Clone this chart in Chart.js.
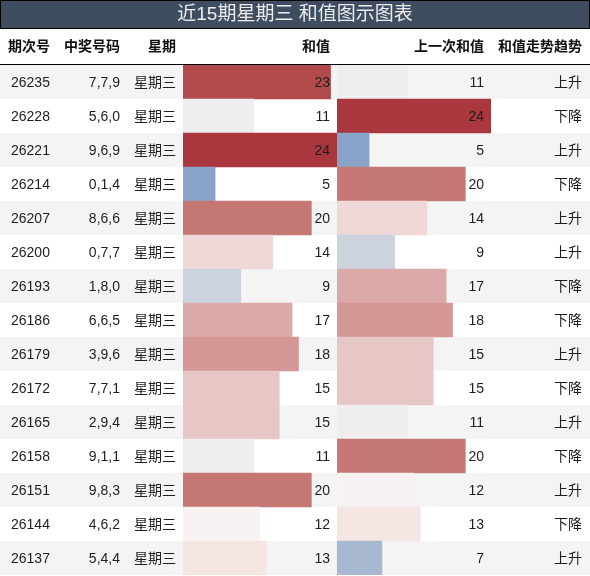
<!DOCTYPE html>
<html>
<head>
<meta charset="utf-8">
<script src="https://cdn.jsdelivr.net/npm/chart.js@4.4.1/dist/chart.umd.min.js"></script>
<style>
  html, body { margin: 0; padding: 0; background: #fff; }
  #wrap { width: 590px; height: 576px; }
</style>
</head>
<body>
<div id="wrap"><canvas id="sumChart" width="590" height="576"></canvas></div>
<script>
const chartTitle = '近15期星期三 和值图示图表';
const headers = ['期次号', '中奖号码', '星期', '和值', '上一次和值', '和值走势趋势'];

const periods = ['26235', '26228', '26221', '26214', '26207', '26200', '26193', '26186', '26179', '26172', '26165', '26158', '26151', '26144', '26137'];
const drawNumbers = ['7,7,9', '5,6,0', '9,6,9', '0,1,4', '8,6,6', '0,7,7', '1,8,0', '6,6,5', '3,9,6', '7,7,1', '2,9,4', '9,1,1', '9,8,3', '4,6,2', '5,4,4'];
const weekdays = ['星期三', '星期三', '星期三', '星期三', '星期三', '星期三', '星期三', '星期三', '星期三', '星期三', '星期三', '星期三', '星期三', '星期三', '星期三'];
const sums = [23, 11, 24, 5, 20, 14, 9, 17, 18, 15, 15, 11, 20, 12, 13];
const prevSums = [11, 24, 5, 20, 14, 9, 17, 18, 15, 15, 11, 20, 12, 13, 7];
const trends = ['上升', '下降', '上升', '下降', '上升', '上升', '下降', '下降', '上升', '下降', '上升', '下降', '上升', '下降', '上升'];

// colour picked for each sum value (blue = low, red = high)
const sumColors = {
  5: '#8aa4c9', 7: '#a9b8d1', 9: '#cdd2df', 11: '#efedf0', 12: '#f8f1f1', 13: '#f5e6e4',
  14: '#efd9d8', 15: '#e7c6c6', 17: '#dba9a7', 18: '#d49795', 20: '#c57773', 23: '#b04a4b', 24: '#a9373d'
};
const colorFor = v => sumColors[v] || '#eeeeee';

const FONT = '"Liberation Sans", "Noto Sans CJK SC", sans-serif';
const maxSum = Math.max(...sums, ...prevSums);

const tablePlugin = {
  id: 'tableCells',
  beforeDatasetsDraw(chart) {
    const { ctx, scales: { y } } = chart;
    const rowH = (y.bottom - y.top) / periods.length;
    ctx.save();
    ctx.fillStyle = '#ffffff';
    ctx.fillRect(0, 0, chart.width, chart.height);

    // row stripes
    periods.forEach((p, i) => {
      if (i % 2 === 0) {
        ctx.fillStyle = '#f4f4f4';
        ctx.fillRect(0, y.getPixelForValue(i) - rowH / 2, chart.width, rowH);
      }
    });

    // title bar
    ctx.fillStyle = '#3f4d61';
    ctx.fillRect(0, 0, chart.width, 28);
    ctx.strokeStyle = '#000';
    ctx.lineWidth = 1;
    ctx.strokeRect(0.5, 0.5, chart.width - 1, 28);
    ctx.fillStyle = '#ececec';
    ctx.font = '19px ' + FONT;
    ctx.textAlign = 'center';
    ctx.textBaseline = 'middle';
    ctx.fillText(chartTitle, chart.width / 2, 15);

    // header row
    ctx.fillStyle = '#111';
    ctx.font = 'bold 14px ' + FONT;
    const headerY = 47;
    ctx.textAlign = 'left';
    ctx.fillText(headers[0], 8, headerY);
    ctx.textAlign = 'right';
    ctx.fillText(headers[1], 120, headerY);
    ctx.fillText(headers[2], 176, headerY);
    ctx.fillText(headers[3], chart.scales.x.right - 7, headerY);
    ctx.fillText(headers[4], chart.scales.x2.right - 7, headerY);
    ctx.fillText(headers[5], 582, headerY);
    ctx.beginPath();
    ctx.moveTo(0, y.top - 0.5);
    ctx.lineTo(chart.width, y.top - 0.5);
    ctx.stroke();
    ctx.restore();
  },
  afterDatasetsDraw(chart) {
    const { ctx, scales: { x, x2, y } } = chart;
    ctx.save();
    ctx.fillStyle = '#1e1e1e';
    ctx.font = '14px ' + FONT;
    ctx.textBaseline = 'middle';
    periods.forEach((p, i) => {
      const cy = y.getPixelForValue(i) + 1;
      ctx.textAlign = 'left';
      ctx.fillText(p, 11, cy);
      ctx.textAlign = 'right';
      ctx.fillText(drawNumbers[i], 120, cy);
      ctx.fillText(weekdays[i], 176, cy);
      ctx.fillText(String(sums[i]), x.right - 7, cy);
      ctx.fillText(String(prevSums[i]), x2.right - 7, cy);
      ctx.fillText(trends[i], 582, cy);
    });
    ctx.restore();
  }
};

new Chart(document.getElementById('sumChart'), {
  type: 'bar',
  data: {
    labels: periods,
    datasets: [
      {
        label: '和值',
        data: sums,
        xAxisID: 'x',
        backgroundColor: sums.map(colorFor),
        borderWidth: 0,
        grouped: false,
        barPercentage: 1,
        categoryPercentage: 1
      },
      {
        label: '上一次和值',
        data: prevSums,
        xAxisID: 'x2',
        backgroundColor: prevSums.map(colorFor),
        borderWidth: 0,
        grouped: false,
        barPercentage: 1,
        categoryPercentage: 1
      }
    ]
  },
  options: {
    indexAxis: 'y',
    responsive: false,
    animation: false,
    devicePixelRatio: 1,
    layout: { padding: { left: 183, right: 99, top: 65, bottom: 1 } },
    plugins: {
      legend: { display: false },
      title: { display: false },
      tooltip: { enabled: false }
    },
    scales: {
      y: { type: 'category', display: false, offset: true, grid: { display: false } },
      x: { type: 'linear', min: 0, max: maxSum, display: false, stack: 'cols', stackWeight: 1, position: 'bottom' },
      x2: { type: 'linear', min: 0, max: maxSum, display: false, stack: 'cols', stackWeight: 1, position: 'bottom' }
    }
  },
  plugins: [tablePlugin]
});
</script>
</body>
</html>
